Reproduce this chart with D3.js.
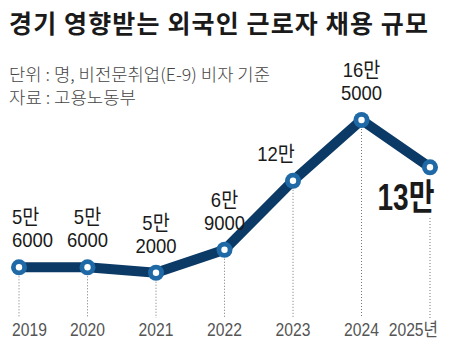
<!DOCTYPE html>
<html><head><meta charset="utf-8">
<script src="https://cdn.jsdelivr.net/npm/d3@7"></script>
<style>body{margin:0;background:#fff}svg{display:block}</style>
</head><body>
<script>
const years = ["2019","2020","2021","2022","2023","2024","2025"];
const yearLabels = ["2019","2020","2021","2022","2023","2024","2025년"];
const values = [56000, 56000, 52000, 69000, 120000, 165000, 130000];
const valueLabels = [["5만","6000"],["5만","6000"],["5만","2000"],["6만","9000"],["12만"],["16만","5000"],["13만"]];
const title = "경기 영향받는 외국인 근로자 채용 규모";
const notes = ["단위 : 명, 비전문취업(E-9) 비자 기준", "자료 : 고용노동부"];

const W = 450, H = 343;
const svg = d3.select("body").append("svg").attr("width", W).attr("height", H);
const kr = "'Noto Sans CJK KR', 'Noto Sans', sans-serif";
const sans = "'Liberation Sans', 'Noto Sans CJK KR', sans-serif";

function condense(sel, f) {
  sel.each(function () {
    const w = this.getComputedTextLength();
    d3.select(this).attr("textLength", w * f).attr("lengthAdjust", "spacingAndGlyphs");
  });
  return sel;
}

const x = d3.scalePoint().domain(years).range([19, 430]);
const y = d3.scaleLinear().domain([0, 165000]).range([343, 120]);

svg.append("text").attr("x", 9).attr("y", 33).text(title)
  .attr("font-family", kr).attr("font-weight", 700).attr("font-size", 25)
  .attr("fill", "#1a1a1a").attr("textLength", 419).attr("lengthAdjust", "spacing");

const noteW = [261, 127];
notes.forEach((t, i) => {
  svg.append("text").attr("x", 9).attr("y", 81 + i * 23).text(t)
    .attr("font-family", kr).attr("font-weight", 300).attr("font-size", 17)
    .attr("fill", "#444").attr("textLength", noteW[i]).attr("lengthAdjust", "spacingAndGlyphs");
});

// dotted guides
const last = years.length - 1;
svg.append("g").selectAll("line").data(years).join("line")
  .attr("x1", d => x(d)).attr("x2", d => x(d))
  .attr("y1", (d, i) => i === last ? 218 : y(values[i]) + 9)
  .attr("y2", 318)
  .attr("stroke", "#777").attr("stroke-width", 1).attr("stroke-dasharray", "1,2");

// line
const line = d3.line().x((d, i) => x(years[i])).y(d => y(d));
svg.append("path").datum(values).attr("d", line)
  .attr("fill", "none").attr("stroke", "#0b3a66").attr("stroke-width", 10)
  .attr("stroke-linejoin", "round");

const pts = svg.append("g").selectAll("g").data(values).join("g")
  .attr("transform", (d, i) => `translate(${x(years[i])},${y(d)})`);
pts.append("circle").attr("r", 8).attr("fill", "#1f6aa6");
pts.append("circle").attr("r", 3.2).attr("fill", "#fff");

// year labels
const yl = svg.append("g").selectAll("text").data(yearLabels).join("text")
  .attr("x", (d, i) => i === 0 ? 12 : i === last ? 438 : x(years[i]))
  .attr("y", 336)
  .attr("text-anchor", (d, i) => i === 0 ? "start" : i === last ? "end" : "middle")
  .attr("font-family", sans).attr("font-size", 18).attr("fill", "#555")
  .text(d => d);
condense(yl, 0.87);

// value labels
valueLabels.forEach((lines, i) => {
  const px = x(years[i]), py = y(values[i]);
  if (i === last) {
    const t = svg.append("text").attr("x", 406).attr("y", 210).attr("text-anchor", "middle")
      .attr("font-family", sans).attr("font-weight", 700).attr("font-size", 36)
      .attr("fill", "#1a1a1a").text(lines[0]);
    t.attr("textLength", 57).attr("lengthAdjust", "spacingAndGlyphs");
    return;
  }
  const cx = i === 0 ? 12 : i === 4 ? px - 17 : px;
  const n = lines.length;
  lines.forEach((t, j) => {
    const el = svg.append("text").attr("x", cx).attr("y", py - 20 - (n - 1 - j) * 23)
      .attr("text-anchor", i === 0 ? "start" : "middle").attr("font-family", sans)
      .attr("font-size", 21).attr("fill", "#1a1a1a").text(t);
    condense(el, 0.88);
  });
});
</script>
</body></html>
